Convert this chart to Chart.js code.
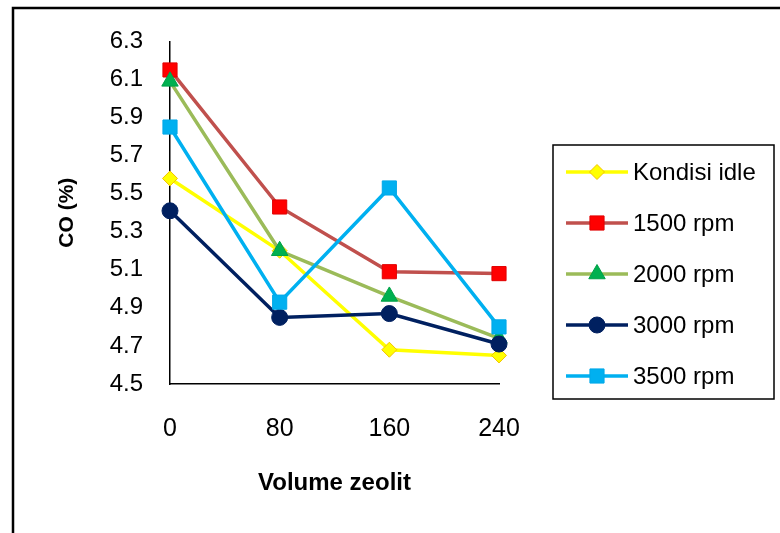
<!DOCTYPE html>
<html>
<head>
<meta charset="utf-8">
<title>CO (%)</title>
<script src="https://cdn.jsdelivr.net/npm/chart.js@4.4.1/dist/chart.umd.min.js"></script>
<style>
    body { margin: 0; background: #fff; }
    #wrap { width: 780px; height: 533px; }
</style>
</head>
<body>
<div id="wrap"><canvas id="myChart" width="780" height="533"></canvas></div>
<script>
const volumes = ['0', '80', '160', '240'];
const seriesNames = ['Kondisi idle', '1500 rpm', '2000 rpm', '3000 rpm', '3500 rpm'];
const idle = [5.58, 5.20, 4.68, 4.65];
const rpm1500 = [6.15, 5.43, 5.09, 5.08];
const rpm2000 = [6.09, 5.20, 4.96, 4.74];
const rpm3000 = [5.41, 4.85, 4.87, 4.71];
const rpm3500 = [5.85, 4.93, 5.53, 4.80];
const yTicks = [4.5, 4.7, 4.9, 5.1, 5.3, 5.5, 5.7, 5.9, 6.1, 6.3];

const FONT = "'Liberation Sans', Arial, sans-serif";
Chart.defaults.font.family = FONT;
Chart.defaults.color = '#000';

const styles = [
    { line: '#FFFF00', fill: '#FFFF00', edge: '#F2C200', shape: 'rectRot', r: 7.5 },
    { line: '#C0504D', fill: '#FF0000', edge: '#E00000', shape: 'rect', r: 10 },
    { line: '#9BBB59', fill: '#00B050', edge: '#00A048', shape: 'triangle', r: 9.5 },
    { line: '#002060', fill: '#002060', edge: '#002060', shape: 'circle', r: 8 },
    { line: '#00B0F0', fill: '#00B0F0', edge: '#00A8E8', shape: 'rect', r: 10 }
];

const values = [idle, rpm1500, rpm2000, rpm3000, rpm3500];

const datasets = values.map((v, i) => ({
    label: seriesNames[i],
    data: v,
    borderColor: styles[i].line,
    borderWidth: 3.5,
    pointStyle: styles[i].shape,
    pointRadius: styles[i].r,
    pointBackgroundColor: styles[i].fill,
    pointBorderColor: styles[i].edge,
    pointBorderWidth: 1,
    tension: 0,
    // later series sit on top, like the spreadsheet chart
    order: values.length - i
}));

// outer frame round the figure
const framePlugin = {
    id: 'frame',
    beforeDraw(chart) {
        const c = chart.ctx;
        c.save();
        c.strokeStyle = '#000';
        c.lineWidth = 2.5;
        c.strokeRect(13, 8, 900, 700);
        c.restore();
    }
};

// boxed legend with line + marker samples
const boxLegend = {
    id: 'boxLegend',
    afterDraw(chart) {
        const c = chart.ctx;
        const box = { x: 553, y: 145, w: 221, h: 254 };
        c.save();
        c.strokeStyle = '#000';
        c.lineWidth = 1.5;
        c.strokeRect(box.x, box.y, box.w, box.h);
        chart.data.datasets.forEach((ds, i) => {
            const y = 172 + i * 51;
            c.strokeStyle = ds.borderColor;
            c.lineWidth = 3.5;
            c.beginPath();
            c.moveTo(566, y);
            c.lineTo(628, y);
            c.stroke();
            c.fillStyle = ds.pointBackgroundColor;
            c.strokeStyle = ds.pointBorderColor;
            c.lineWidth = 1;
            Chart.helpers.drawPoint(c, { pointStyle: ds.pointStyle, radius: ds.pointRadius, borderWidth: 1, rotation: 0 }, 597, y);
            c.fillStyle = '#000';
            c.font = '24px ' + FONT;
            c.textAlign = 'left';
            c.textBaseline = 'middle';
            c.fillText(ds.label, 633, y + 1);
        });
        c.restore();
    }
};

const ctx = document.getElementById('myChart').getContext('2d');
const myChart = new Chart(ctx, {
    type: 'line',
    data: {
        labels: volumes,
        datasets: datasets
    },
    options: {
        responsive: false,
        animation: false,
        layout: {
            padding: { left: 0, top: 41, right: 281, bottom: 0 }
        },
        scales: {
            x: {
                offset: false,
                grid: { display: false, drawTicks: false },
                border: { display: true, color: '#000', width: 1.5 },
                ticks: { padding: 30, font: { size: 25 }, maxRotation: 0 },
                title: {
                    display: true,
                    text: 'Volume zeolit',
                    font: { size: 24, weight: 'bold' },
                    padding: { top: 0, bottom: 35 }
                },
                afterFit: (scale) => { scale.height = 149; }
            },
            y: {
                min: yTicks[0],
                max: yTicks[yTicks.length - 1],
                afterBuildTicks: (scale) => {
                    scale.ticks = yTicks.map(v => ({ value: v }));
                },
                grid: { display: false, drawTicks: false },
                border: { display: true, color: '#000', width: 1.5 },
                ticks: {
                    padding: 27,
                    font: { size: 24 },
                    callback: (v) => Number(v).toFixed(1)
                },
                title: {
                    display: true,
                    text: 'CO (%)',
                    font: { size: 21, weight: 'bold' },
                    padding: { top: 55, bottom: 0 }
                },
                afterFit: (scale) => { scale.width = 170; }
            }
        },
        plugins: {
            legend: { display: false },
            tooltip: { enabled: false }
        }
    },
    plugins: [framePlugin, boxLegend]
});
</script>
</body>
</html>
